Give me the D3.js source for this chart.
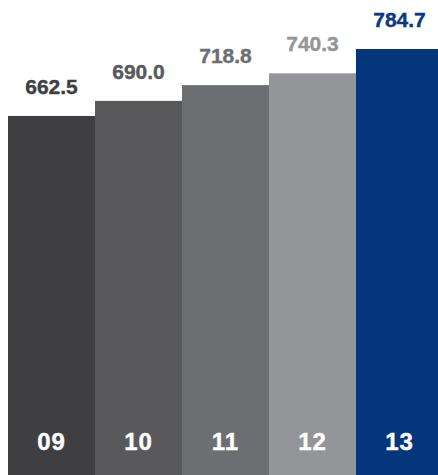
<!DOCTYPE html>
<html>
<head>
<meta charset="utf-8">
<script src="https://cdn.jsdelivr.net/npm/d3@7"></script>
<style>
  html, body { margin: 0; padding: 0; background: #fff; }
  svg { display: block; }
  text { font-family: "Liberation Sans", Arial, Helvetica, sans-serif; font-weight: bold; }
</style>
</head>
<body>
<div id="chart"></div>
<script>
'use strict';

var years = ['09', '10', '11', '12', '13'];
var values = [662.5, 690.0, 718.8, 740.3, 784.7];
var barColors = ['#3f3f41', '#59595b', '#6d6e71', '#939598', '#05357a'];
var labelColors = ['#3f3f41', '#59595b', '#6d6e71', '#939598', '#0a3a7d'];

var width = 438, height = 475;

var svg = d3.select('#chart').append('svg')
    .attr('width', width)
    .attr('height', height);

// bars butt up against each other; the last one runs off the right edge
var x = d3.scaleBand().domain(years).range([8, 443]).padding(0);
var y = d3.scaleLinear().domain([0, 784.7]).range([479, 49]);

var bars = svg.selectAll('g.bar').data(years).enter().append('g').attr('class', 'bar');

bars.append('rect')
    .attr('x', function (d) { return x(d); })
    .attr('y', function (d, i) { return y(values[i]); })
    .attr('width', x.bandwidth())
    .attr('height', function (d, i) { return height - y(values[i]); })
    .attr('fill', function (d, i) { return barColors[i]; });

// value labels above each bar
bars.append('text')
    .attr('x', function (d) { return x(d) + x.bandwidth() / 2; })
    .attr('y', function (d, i) { return y(values[i]) - 22; })
    .attr('text-anchor', 'middle')
    .attr('font-size', 21)
    .attr('fill', function (d, i) { return labelColors[i]; })
    .attr('stroke', function (d, i) { return labelColors[i]; })
    .attr('stroke-width', 0.4)
    .text(function (d, i) { return values[i].toFixed(1); });

// year labels inside the bars
bars.append('text')
    .attr('x', function (d) { return x(d) + x.bandwidth() / 2; })
    .attr('y', 450)
    .attr('text-anchor', 'middle')
    .attr('font-size', 24)
    .attr('letter-spacing', 1)
    .attr('fill', '#fff')
    .attr('stroke', '#fff')
    .attr('stroke-width', 0.4)
    .text(function (d) { return d; });
</script>
</body>
</html>
